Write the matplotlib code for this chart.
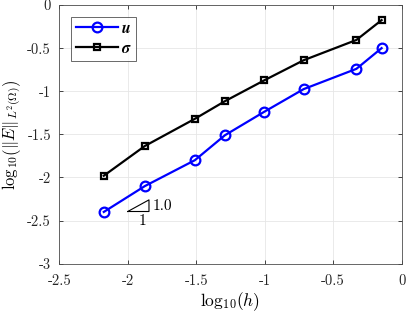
import matplotlib
matplotlib.use("Agg")
import matplotlib.pyplot as plt

plt.rcParams['font.family'] = 'serif'
plt.rcParams['font.serif'] = ['cmr10']
plt.rcParams['mathtext.fontset'] = 'cm'
plt.rcParams['axes.unicode_minus'] = False

# data
log_h = [-2.175, -1.875, -1.51, -1.29, -1.005, -0.715, -0.33, -0.146]
err_u = [-2.40, -2.10, -1.80, -1.51, -1.24, -0.975, -0.74, -0.50]
err_sigma = [-1.98, -1.635, -1.32, -1.115, -0.875, -0.64, -0.405, -0.175]

xticks = [-2.5, -2, -1.5, -1, -0.5, 0]
xticklabels = ['-2.5', '-2', '-1.5', '-1', '-0.5', '0']
yticks = [-3, -2.5, -2, -1.5, -1, -0.5, 0]
yticklabels = ['-3', '-2.5', '-2', '-1.5', '-1', '-0.5', '0']

# slope triangle
tri_x = [-2.0, -1.845, -1.845, -2.0]
tri_y = [-2.395, -2.395, -2.26, -2.395]

fig = plt.figure(figsize=(4.07, 3.15), dpi=100)
ax = fig.add_axes([0.1457, 0.163, 0.841, 0.821])

ax.plot(log_h, err_u, '-o', color='blue', lw=1.6, ms=7, mfc='none', mew=1.6,
        label=r'$\mathbfit{u}$')
ax.plot(log_h, err_sigma, '-s', color='black', lw=1.6, ms=4.5, mfc='none', mew=1.6,
        label=r'$\mathbfit{\sigma}$')
ax.plot(tri_x, tri_y, color='black', lw=0.8)
ax.text(-1.822, -2.337, '1.0', fontsize=11, va='center', ha='left')
ax.text(-1.892, -2.51, '1', fontsize=11, va='center', ha='center')

ax.set_xlim(-2.5, 0)
ax.set_ylim(-3, 0)
ax.set_xticks(xticks)
ax.set_xticklabels(xticklabels)
ax.set_yticks(yticks)
ax.set_yticklabels(yticklabels)
ax.tick_params(direction='in', top=True, right=True, labelsize=10.5,
               colors='#262626', length=3, width=0.6)
ax.tick_params(axis='x', pad=8)
ax.tick_params(axis='y', pad=6)
ax.grid(True, color='#e6e6e6', lw=0.6)
for s in ax.spines.values():
    s.set_color('#4d4d4d')
    s.set_linewidth(0.6)

ax.set_xlabel(r'$\mathrm{log}_{10}(h)$', fontsize=12.5, labelpad=1)
ax.set_ylabel(r'$\mathrm{log}_{10}\left(\Vert E\Vert_{L^2(\Omega)}\right)$',
              fontsize=12, labelpad=2)

leg = ax.legend(loc='upper left', fontsize=11.5, fancybox=False, edgecolor='#262626',
                handlelength=2.6, borderaxespad=0.75, handletextpad=0.2,
                labelspacing=0.35, borderpad=0.3)
leg.get_frame().set_linewidth(0.6)

plt.savefig('out.png', dpi=100)
